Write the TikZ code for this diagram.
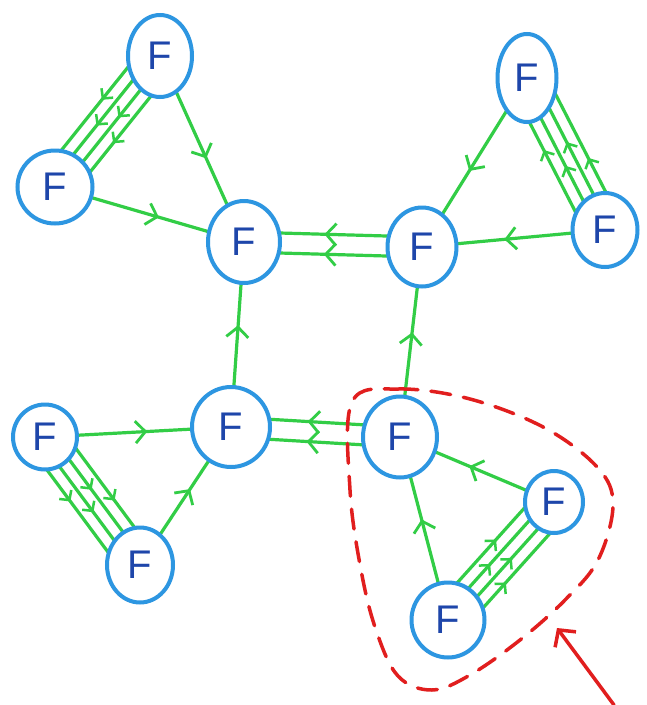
\documentclass[tikz,border=0pt]{standalone}
\usepackage{fontspec}
\setmainfont{Liberation Sans}
\usetikzlibrary{shapes.geometric,arrows.meta,decorations.markings,calc}
\pgfdeclarelayer{background}
\pgfsetlayers{background,main}
\definecolor{nodeblue}{RGB}{45,150,225}
\definecolor{letterblue}{RGB}{30,70,170}
\definecolor{wire}{RGB}{50,205,70}
\definecolor{marker}{RGB}{225,30,30}
\tikzset{
  fnode/.style={ellipse, draw=nodeblue, line width=4pt, fill=white,
    inner sep=0pt, text=letterblue, font=\fontsize{40}{40}\selectfont},
  wireline/.style={draw=wire, line width=3.2pt},
  midarrow/.style={postaction={decorate}, decoration={markings,
    mark=at position #1 with {\arrow[line width=2.8pt]{Straight Barb[length=10pt,width=22pt]}}}},
  smallarrow/.style={postaction={decorate}, decoration={markings,
    mark=at position #1 with {\arrow[line width=2.5pt]{Straight Barb[length=7pt,width=15pt]}}}},
  redline/.style={draw=marker, line width=3.5pt, line cap=round},
}
\begin{document}
\begin{tikzpicture}[x=1pt,y=-1pt]
\useasboundingbox (0,0) rectangle (647,705);

% the twelve F vertices
\node[fnode, minimum width=64pt, minimum height=82pt] (A) at (160,56) {F};
\node[fnode, minimum width=75pt, minimum height=73pt] (B) at (55,187) {F};
\node[fnode, minimum width=72pt, minimum height=82pt] (C) at (244,242) {F};
\node[fnode, minimum width=59pt, minimum height=88pt] (D) at (527,78) {F};
\node[fnode, minimum width=65pt, minimum height=74pt] (E) at (605,230) {F};
\node[fnode, minimum width=69pt, minimum height=79pt] (G) at (422,247) {F};
\node[fnode, minimum width=64pt, minimum height=65pt] (H) at (45,437) {F};
\node[fnode, minimum width=66pt, minimum height=75pt] (I) at (140,565) {F};
\node[fnode, minimum width=78pt, minimum height=80pt] (J) at (231,427) {F};
\node[fnode, minimum width=74pt, minimum height=81pt] (K) at (400,437) {F};
\node[fnode, minimum width=58pt, minimum height=62pt] (L) at (554,502) {F};
\node[fnode, minimum width=73pt, minimum height=75pt] (M) at (448,620) {F};

\begin{pgfonlayer}{background}
  \fill[white] (0,0) rectangle (647,705);
  % single connectors
  \foreach \s/\t in {A/C, B/C, D/G, E/G, J/C, K/G, H/J, I/J, L/K, M/K}
    \draw[wireline, midarrow=0.55] (\s.center) -- (\t.center);
  % doubled connectors
  \foreach \s/\t in {G/C, K/J}
    \foreach \o in {-10,10}
      \draw[wireline, midarrow=0.55]
        ($(\s.center)!\o pt!90:(\t.center)$) -- ($(\t.center)!\o pt!-90:(\s.center)$);
  % four-line bundles
  \foreach \s/\t in {A/B, E/D, H/I, M/L}
    \foreach \o/\p in {-18/0.42,-6/0.56,6/0.44,18/0.58}
      \draw[wireline, smallarrow=\p]
        ($(\s.center)!\o pt!90:(\t.center)$) -- ($(\t.center)!\o pt!-90:(\s.center)$);
\end{pgfonlayer}

% dashed outline round the lower right triangle
\draw[redline, dash pattern=on 20pt off 13pt]
  plot[smooth cycle, tension=0.6] coordinates {
    (352,402) (398,389) (470,399) (545,428) (598,468) (613,505)
    (598,560) (565,600) (520,640) (470,675) (432,690) (398,676)
    (376,630) (361,570) (350,490) };

% pointer
\coordinate (tail) at (614,705);
\coordinate (tip) at (557,628);
\draw[redline, -{Straight Barb[length=12pt,width=26pt]}] (tail) -- (tip);
\end{tikzpicture}
\end{document}
